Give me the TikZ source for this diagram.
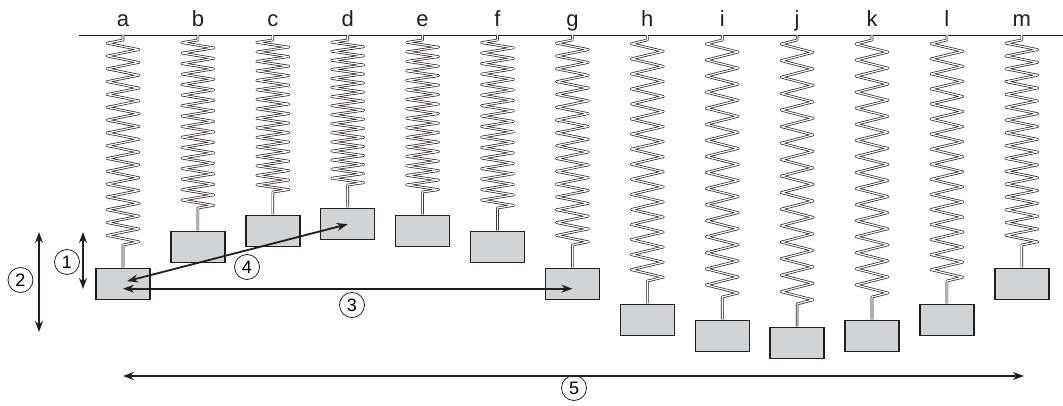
\documentclass[tikz,border=0pt]{standalone}
\usepackage{fontspec}
\setmainfont{Liberation Sans}
\usetikzlibrary{arrows.meta}
\definecolor{inkdark}{RGB}{35,31,32}
\definecolor{massgray}{RGB}{209,211,212}
\tikzset{
  mass/.style={draw=inkdark, fill=massgray, line width=1.4pt, minimum width=54pt, minimum height=31pt, inner sep=0pt, anchor=north},
  springline/.style={draw=inkdark, line width=0.7pt, line join=round, double=white, double distance=1.2pt},
  motion/.style={draw=inkdark, line width=1.8pt, {Stealth[length=11pt,width=8pt]}-{Stealth[length=11pt,width=8pt]}},
  tag/.style={circle, draw=inkdark, line width=0.8pt, minimum size=25pt, inner sep=0pt, font=\fontsize{18}{20}\selectfont},
  letter/.style={anchor=base, inner sep=0pt, text=inkdark, font=\fontsize{22}{24}\selectfont}
}
\begin{document}
\begin{tikzpicture}[x=1pt, y=-1pt]
	  \useasboundingbox (0,0) rectangle (1063,406);
	  % ceiling
	  \draw[inkdark, line width=0.8pt] (79,35) -- (1063,35);
	  % springs and masses, 16 coils each
	  \foreach \lbl/\ytop [count=\i from 0] in {a/268,b/231,c/215,d/208,e/215,f/231,g/268,h/304,i/320,j/327,k/320,l/304,m/268} {
	    \pgfmathsetmacro\cx{123+74.9*\i}
	    \pgfmathsetmacro\pitch{(\ytop-23-40)/16}
	    \node[letter] (lbl\lbl) at (\cx,27) {\lbl};
	    \node[mass] (\lbl) at (\cx,\ytop) {};
	    \draw[springline] (\cx,35) -- (\cx,40)
	      foreach \k in {0,...,15} { -- (\cx-16,{40+(\k+0.25)*\pitch}) -- (\cx+16,{40+(\k+0.75)*\pitch}) }
	      -- (\cx,\ytop-23) -- ([yshift=0.7pt]\lbl.north);
	  }
	  % motion arrows
	  \coordinate (oneTop) at (83,232);
	  \coordinate (oneBot) at (83,289);
	  \coordinate (twoTop) at (39,232);
	  \coordinate (twoBot) at (39,332);
	  \coordinate (fiveL) at (123,376);
	  \coordinate (fiveR) at (1024,376);
	  \draw[motion] (oneTop) -- (oneBot);
	  \draw[motion] (twoTop) -- (twoBot);
	  \draw[motion] ([yshift=-4.5pt]a.center) -- ([yshift=-4.5pt]g.center);
	  \draw[motion] ([xshift=4pt,yshift=3pt]a.center) -- (d.center);
	  \draw[motion] (fiveL) -- (fiveR);
	  \node[tag] (tag1) at (67,262) {1};
	  \node[tag] (tag2) at (20.5,280) {2};
	  \node[tag] (tag3) at (352,305) {3};
	  \node[tag] (tag4) at (247,267) {4};
	  \node[tag] (tag5) at (574,388) {5};
	\end{tikzpicture}
\end{document}
